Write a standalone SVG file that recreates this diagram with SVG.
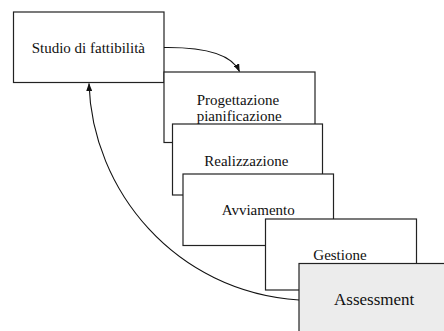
<svg xmlns="http://www.w3.org/2000/svg" width="444" height="331" viewBox="0 0 444 331">
  <style>
    .box { fill: #ffffff; stroke: #222222; stroke-width: 1.2; }
    .box.last { fill: #ececec; }
    .lbl { font-family: "Liberation Serif", "Times New Roman", serif; font-size: 15px; fill: #111111; }
    .big { font-size: 17px; }
    .link { fill: none; stroke: #111111; stroke-width: 1.1; marker-end: url(#head); }
  </style>
  <defs>
    <marker id="head" markerUnits="userSpaceOnUse" markerWidth="8" markerHeight="6" refX="7.5" refY="3" orient="auto">
      <path d="M0,0 L8,3 L0,6 z" fill="#111111"/>
    </marker>
  </defs>
  <rect width="444" height="331" fill="#ffffff"/>

  <g id="studio">
    <rect class="box" x="13.5" y="12" width="150.5" height="70.5"/>
    <text class="lbl" x="31.7" y="53.3">Studio di fattibilità</text>
  </g>
  <g id="progettazione">
    <rect class="box" x="164" y="72" width="151" height="70.5"/>
    <text class="lbl" x="196.7" y="105">Progettazione</text>
    <text class="lbl" x="196.7" y="121">pianificazione</text>
  </g>
  <g id="realizzazione">
    <rect class="box" x="172.5" y="124" width="150" height="71"/>
    <text class="lbl" x="204.3" y="166">Realizzazione</text>
  </g>
  <g id="avviamento">
    <rect class="box" x="183" y="174" width="150.5" height="71.5"/>
    <text class="lbl" x="221.7" y="215">Avviamento</text>
  </g>
  <g id="gestione">
    <rect class="box" x="265.5" y="219" width="151" height="71"/>
    <text class="lbl" x="313.3" y="260">Gestione</text>
  </g>
  <g id="assessment">
    <rect class="box last" x="299" y="263.5" width="160" height="80"/>
    <text class="lbl big" x="334" y="305">Assessment</text>
  </g>

  <g id="connectors">
    <path class="link" d="M164,47.5 C205,47 232,55 239.5,71.5"/>
    <path class="link" d="M299,300 C175,292 92,190 89,83.5"/>
  </g>
</svg>
